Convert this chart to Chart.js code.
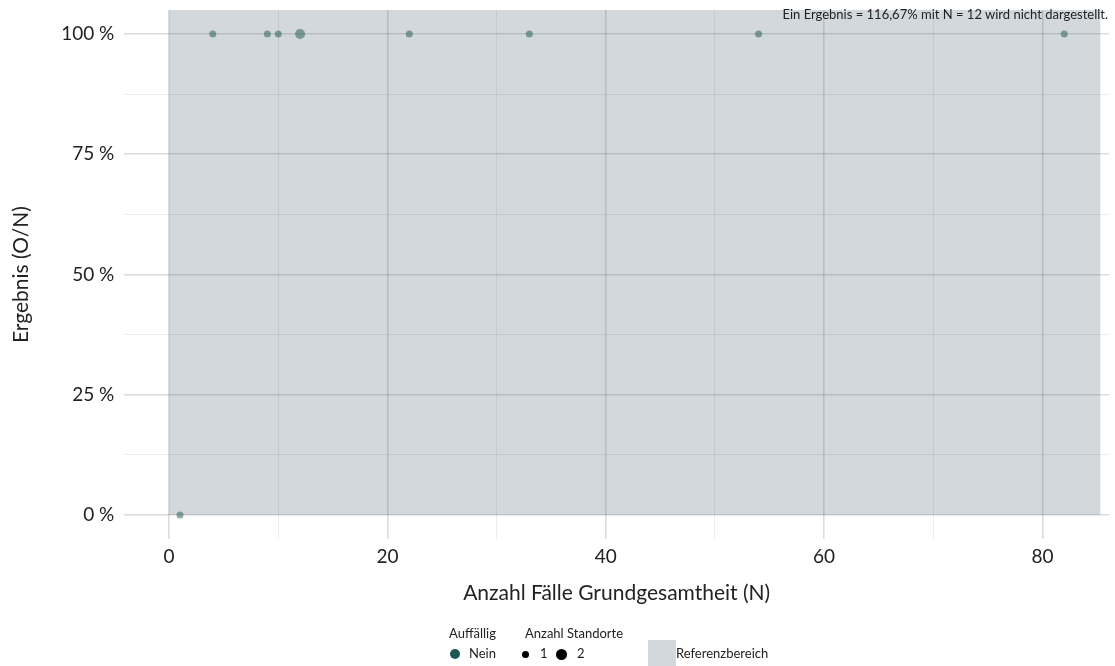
<!DOCTYPE html>
<html>
<head>
<meta charset="utf-8">
<script src="https://cdn.jsdelivr.net/npm/chart.js@4/dist/chart.umd.min.js"></script>
<style>
  html, body { margin: 0; padding: 0; background: #fff; }
  #wrap { position: relative; width: 1115px; height: 666px; overflow: hidden; font-family: Lato, "Open Sans", sans-serif; }
  #chart { position: absolute; left: 0; top: 0; }
  .lg { position: absolute; font-size: 13px; color: #222; white-space: nowrap; line-height: 15px; }
  .dot { position: absolute; border-radius: 50%; }
  #note { position: absolute; right: 7px; top: 7px; font-size: 13px; color: #222; white-space: nowrap; line-height: 15px; }
</style>
</head>
<body>
<div id="wrap">
  <canvas id="chart" width="1115" height="666"></canvas>
  <div id="note">Ein Ergebnis = 116,67% mit N = 12 wird nicht dargestellt.</div>

  <div class="lg" style="left:449px; top:626px;">Auffällig</div>
  <div class="dot" style="left:450px; top:649px; width:10px; height:10px; background:#1d5753;"></div>
  <div class="lg" style="left:469px; top:646px;">Nein</div>

  <div class="lg" style="left:525px; top:626px;">Anzahl Standorte</div>
  <div class="dot" style="left:522px; top:651px; width:7px; height:7px; background:#000;"></div>
  <div class="lg" style="left:540px; top:646px;">1</div>
  <div class="dot" style="left:556px; top:649px; width:11px; height:11px; background:#000;"></div>
  <div class="lg" style="left:577px; top:646px;">2</div>

  <div style="position:absolute; left:648px; top:640px; width:28px; height:28px; background:#d3d8dc;"></div>
  <div class="lg" style="left:676px; top:646px;">Referenzbereich</div>
</div>

<script>
// Data
const fallzahlen = [1, 4, 9, 10, 12, 22, 33, 54, 82];
const ergebnisse = [0, 100, 100, 100, 100, 100, 100, 100, 100];
const standorte = [1, 1, 1, 1, 2, 1, 1, 1, 1];

const xTicks = [0, 10, 20, 30, 40, 50, 60, 70, 80];
const yTicks = [0, 12.5, 25, 37.5, 50, 62.5, 75, 87.5, 100];

// Reference range (shaded area)
const refX = [0, 85.3];
const refY = [0, 105];

const points = fallzahlen.map((n, i) => ({ x: n, y: ergebnisse[i] }));

// Shaded reference area under the grid
const refArea = {
  id: 'refArea',
  beforeDraw(chart) {
    const { ctx, scales } = chart;
    const x0 = scales.x.getPixelForValue(refX[0]);
    const x1 = scales.x.getPixelForValue(refX[1]);
    const y0 = scales.y.getPixelForValue(refY[1]);
    const y1 = scales.y.getPixelForValue(refY[0]);
    ctx.save();
    ctx.fillStyle = '#d3d8dc';
    ctx.fillRect(x0, y0, x1 - x0, y1 - y0);
    ctx.restore();
  }
};

// no extra room for half tick labels at the axis ends
function noEndPadding(axis) {
  axis.paddingTop = 0;
  axis.paddingBottom = 0;
  axis.paddingLeft = 0;
  axis.paddingRight = 0;
}

const fontFamily = 'Lato, "Open Sans", sans-serif';

new Chart(document.getElementById('chart'), {
  type: 'scatter',
  data: {
    datasets: [{
      data: points,
      backgroundColor: 'rgba(29, 87, 83, 0.5)',
      borderWidth: 0,
      pointRadius: standorte.map(s => s === 2 ? 5 : 3.5),
      pointHoverRadius: standorte.map(s => s === 2 ? 5 : 3.5)
    }]
  },
  options: {
    responsive: false,
    animation: false,
    layout: { padding: { left: 6, right: 6, top: 10, bottom: 60 } },
    plugins: {
      legend: { display: false },
      tooltip: { enabled: false }
    },
    scales: {
      x: {
        type: 'linear',
        min: -4.1,
        max: 86.1,
        afterBuildTicks: axis => { axis.ticks = xTicks.map(v => ({ value: v })); },
        afterFit: noEndPadding,
        border: { display: false },
        grid: {
          drawTicks: false,
          color: c => c.tick.value % 20 === 0 ? 'rgba(90, 95, 100, 0.22)' : 'rgba(90, 95, 100, 0.12)',
          lineWidth: c => c.tick.value % 20 === 0 ? 1.6 : 1
        },
        ticks: {
          padding: 6,
          color: '#222',
          font: { family: fontFamily, size: 19 },
          callback: v => v % 20 === 0 ? v : ''
        },
        title: {
          display: true,
          text: 'Anzahl Fälle Grundgesamtheit (N)',
          color: '#222',
          font: { family: fontFamily, size: 21 },
          padding: { top: 7, bottom: 0 }
        }
      },
      y: {
        type: 'linear',
        min: -5,
        max: 105,
        afterBuildTicks: axis => { axis.ticks = yTicks.map(v => ({ value: v })); },
        afterFit: noEndPadding,
        border: { display: false },
        grid: {
          drawTicks: false,
          color: c => c.tick.value % 25 === 0 ? 'rgba(90, 95, 100, 0.22)' : 'rgba(90, 95, 100, 0.12)',
          lineWidth: c => c.tick.value % 25 === 0 ? 1.6 : 1
        },
        ticks: {
          padding: 10,
          color: '#222',
          font: { family: fontFamily, size: 19 },
          callback: v => v % 25 === 0 ? v + ' %' : ''
        },
        title: {
          display: true,
          text: 'Ergebnis (O/N)',
          color: '#222',
          font: { family: fontFamily, size: 21 },
          padding: { top: 3, bottom: 17 }
        }
      }
    }
  },
  plugins: [refArea]
});
</script>
</body>
</html>
